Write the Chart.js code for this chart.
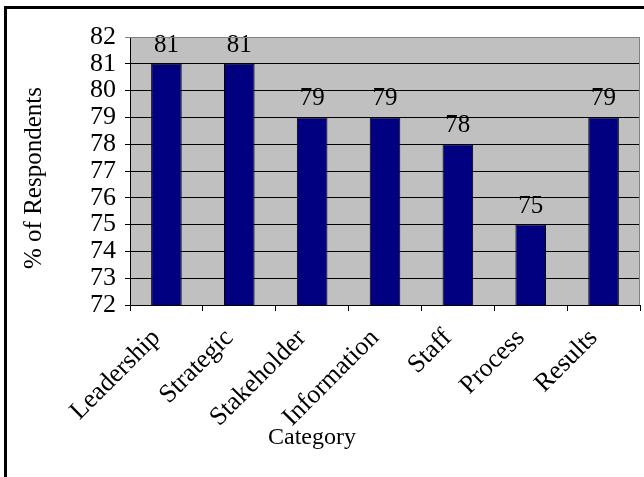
<!DOCTYPE html>
<html>
<head>
<meta charset="utf-8">
<script src="https://cdn.jsdelivr.net/npm/chart.js@4/dist/chart.umd.min.js"></script>
<style>
  html, body { margin: 0; padding: 0; background: #fff; }
  #wrap { position: relative; width: 644px; height: 477px; }
</style>
</head>
<body>
<div id="wrap"><canvas id="chart" width="644" height="477"></canvas></div>
<script>
// datos
const categories = ["Leadership", "Strategic", "Stakeholder", "Information", "Staff", "Process", "Results"]
const respondents = [81, 81, 79, 79, 78, 75, 79]
const yMin = 72
const yMax = 82

const FONT = "'Liberation Serif', 'Times New Roman', serif"

// fondo blanco, marco exterior y área de trazado gris
const framePlugin = {
  id: "frame",
  beforeDraw(chart) {
    const { ctx, chartArea: a } = chart
    ctx.save()
    ctx.fillStyle = "#fff"
    ctx.fillRect(0, 0, chart.width, chart.height)
    ctx.fillStyle = "#000"
    ctx.fillRect(4, 6, chart.width, 3)
    ctx.fillRect(4, 6, 3, chart.height)
    ctx.fillStyle = "#c0c0c0"
    ctx.fillRect(a.left, a.top, a.right - a.left, a.bottom - a.top)
    ctx.restore()
  },
  afterDraw(chart) {
    const { ctx, chartArea: a } = chart
    ctx.save()
    ctx.strokeStyle = "#808080"
    ctx.lineWidth = 1
    ctx.beginPath()
    ctx.moveTo(a.left, a.top + 0.5)
    ctx.lineTo(a.right - 0.5, a.top + 0.5)
    ctx.lineTo(a.right - 0.5, a.bottom)
    ctx.stroke()

    // títulos de ejes (centrados como en Excel, no sobre el eje)
    ctx.fillStyle = "#000"
    ctx.font = `24px ${FONT}`
    ctx.textAlign = "center"
    ctx.textBaseline = "middle"
    ctx.fillText("Category", 312, 438)
    ctx.font = `25px ${FONT}`
    ctx.translate(34, 178)
    ctx.rotate(-Math.PI / 2)
    ctx.fillText("% of Respondents", 0, 0)
    ctx.restore()
  }
}

// etiquetas de valor encima de cada barra
const valueLabels = {
  id: "valueLabels",
  afterDatasetsDraw(chart) {
    const { ctx } = chart
    const meta = chart.getDatasetMeta(0)
    ctx.save()
    ctx.fillStyle = "#000"
    ctx.font = `25px ${FONT}`
    ctx.textAlign = "center"
    ctx.textBaseline = "alphabetic"
    meta.data.forEach((bar, i) => {
      ctx.fillText(String(respondents[i]), bar.x, bar.y - 12)
    })
    ctx.restore()
  }
}

new Chart(document.getElementById("chart"), {
  type: "bar",
  data: {
    labels: categories,
    datasets: [{
      data: respondents,
      backgroundColor: "#000080",
      borderColor: "#000",
      borderWidth: 1,
      barPercentage: 0.42,
      categoryPercentage: 1
    }]
  },
  options: {
    responsive: false,
    animation: false,
    devicePixelRatio: 1,
    layout: { padding: { left: 0, top: 37, right: 4, bottom: 0 } },
    plugins: { legend: { display: false }, tooltip: { enabled: false } },
    scales: {
      x: {
        grid: { offset: true, drawOnChartArea: false, drawTicks: true, tickLength: 6, color: "#000" },
        border: { color: "#000", width: 1 },
        ticks: {
          color: "#000",
          font: { family: FONT, size: 26 },
          minRotation: 45,
          maxRotation: 45,
          autoSkip: false,
          padding: 12,
          labelOffset: -10
        },
        afterFit(scale) { scale.height = 172 }
      },
      y: {
        min: yMin,
        max: yMax,
        grid: {
          color: (c) => (c.tick && c.tick.value === yMax ? "#808080" : "#000"),
          tickLength: 5,
          drawTicks: true
        },
        border: { color: "#000", width: 1 },
        ticks: {
          stepSize: 1,
          autoSkip: false,
          color: "#000",
          font: { family: FONT, size: 26 },
          padding: 9
        },
        afterFit(scale) { scale.width = 130 }
      }
    }
  },
  plugins: [framePlugin, valueLabels]
})
</script>
</body>
</html>
